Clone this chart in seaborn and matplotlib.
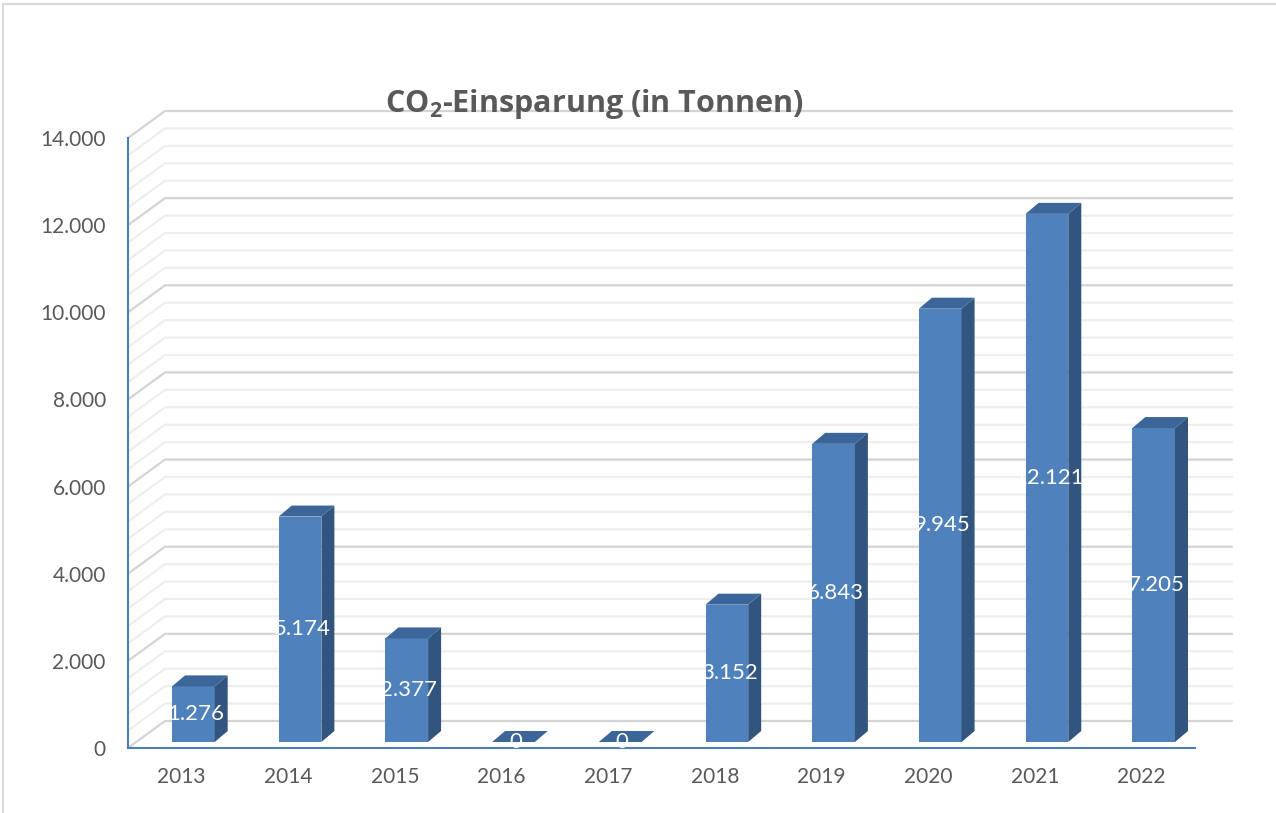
import matplotlib
matplotlib.use("Agg")
import matplotlib.pyplot as plt
import seaborn as sns
from matplotlib.patches import Polygon
from matplotlib.lines import Line2D
from matplotlib.transforms import offset_copy

# data
years = ["2013", "2014", "2015", "2016", "2017", "2018", "2019", "2020", "2021", "2022"]
savings = [1276, 5174, 2377, 0, 0, 3152, 6843, 9945, 12121, 7205]
y_ticks = [0, 2000, 4000, 6000, 8000, 10000, 12000, 14000]

def de_num(v):
    # german thousands separator
    return f"{v:,}".replace(",", ".")

sns.set_theme(style="white")
plt.rcParams["font.family"] = ["Lato", "DejaVu Sans"]
plt.rcParams["mathtext.fontset"] = "custom"
plt.rcParams["mathtext.rm"] = "Open Sans"
plt.rcParams["mathtext.bf"] = "Open Sans:bold"

front = "#4F81BD"
top_c = "#3C6699"
side_c = "#32557F"
axis_blue = "#4A7EBB"
grey_text = "#595959"

fig = plt.figure(figsize=(12.76, 8.13), dpi=100)
ax = fig.add_axes([128 / 1276, 65 / 813, 1067 / 1276, 610 / 813])
ax.patch.set_alpha(0)

sns.barplot(x=years, y=savings, color=front, saturation=1, width=0.4,
            linewidth=0, ax=ax, zorder=3)
ax.set_xlim(-0.5, 9.5)
ax.set_ylim(0, 14000)
ax.set_xlabel("")
ax.set_ylabel("")

px_x = 1067 / 10      # pixels per category
px_y = 610 / 14000    # pixels per tonne

# back wall gridlines with the little diagonal on the left
wall_dx, wall_dy = 37 / px_x, 27 / px_y
for v in range(0, 14001, 400):
    major = v % 2000 == 0
    ax.plot([-0.5, -0.5 + wall_dx, 9.5 + wall_dx], [v, v + wall_dy, v + wall_dy],
            color="#D4D4D4" if major else "#EEEEEE", lw=1.6, clip_on=False, zorder=1)

# fake 3d bars: shift front face, add top + side faces
bar_tr = offset_copy(ax.transData, fig=fig, x=12, y=6, units="dots")
ddx, ddy = 13 / px_x, 11 / px_y
bars = list(ax.patches)
for bar, val in zip(bars, savings):
    bar.set_transform(bar_tr)
    bar.set_clip_on(False)
    x0, w, h = bar.get_x(), bar.get_width(), bar.get_height()
    top_poly = [(x0, h), (x0 + w, h), (x0 + w + ddx, h + ddy), (x0 + ddx, h + ddy)]
    side_poly = [(x0 + w, 0), (x0 + w + ddx, ddy), (x0 + w + ddx, h + ddy), (x0 + w, h)]
    ax.add_patch(Polygon(side_poly, closed=True, facecolor=side_c, edgecolor="none",
                         transform=bar_tr, clip_on=False, zorder=3))
    ax.add_patch(Polygon(top_poly, closed=True, facecolor=top_c, edgecolor="none",
                         transform=bar_tr, clip_on=False, zorder=3))
    ax.text(x0 + w / 2 + 0.02, h / 2, de_num(val), transform=bar_tr, color="white",
            ha="center", va="center", fontsize=16, zorder=5)

# axes
for s in ["top", "right"]:
    ax.spines[s].set_visible(False)
for s in ["left", "bottom"]:
    ax.spines[s].set_color(axis_blue)
    ax.spines[s].set_linewidth(1.5)
    ax.spines[s].set_zorder(4)

ax.set_yticks(y_ticks)
ax.set_yticklabels([de_num(t) for t in y_ticks])
ax.tick_params(axis="y", direction="in", length=6, width=1.5, color=axis_blue,
               labelcolor=grey_text, labelsize=15, pad=16)
ax.set_xticks([i - 0.5 for i in range(11)], minor=True)
ax.tick_params(axis="x", which="major", length=0, labelcolor=grey_text,
               labelsize=15, pad=14)
ax.tick_params(axis="x", which="minor", direction="in", length=6, width=1.5,
               color=axis_blue)

fig.text(594 / 1276, 1 - 104 / 813, r"CO$_\mathbf{2}$-Einsparung (in Tonnen)",
         family=["Open Sans", "DejaVu Sans"], fontsize=22, fontweight="bold",
         color=grey_text, ha="center", va="center")

# chart area border (top + left visible)
fig.add_artist(Line2D([3 / 1276, 1], [1 - 4 / 813, 1 - 4 / 813], color="#D9D9D9",
                      lw=1.5, transform=fig.transFigure))
fig.add_artist(Line2D([3 / 1276, 3 / 1276], [0, 1 - 4 / 813], color="#D9D9D9",
                      lw=1.5, transform=fig.transFigure))

fig.savefig("out.png", dpi=100)
